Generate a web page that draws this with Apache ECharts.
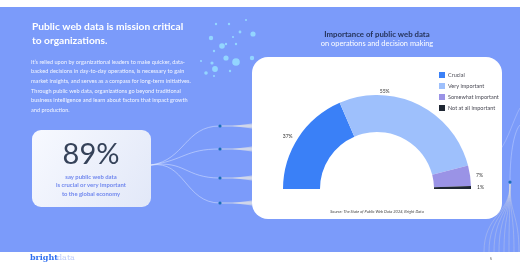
<!DOCTYPE html>
<html>
<head>
<meta charset="utf-8">
<script src="https://cdn.jsdelivr.net/npm/echarts@6/dist/echarts.min.js"></script>
<style>
  html, body { margin: 0; padding: 0; background: #fff; }
  #main { width: 520px; height: 272px; }
</style>
</head>
<body>
<div id="main"></div>
<script>
// data
const categories = ['Crucial', 'Very important', 'Somewhat important', 'Not at all important'];
const shares = [37, 55, 7, 1];
const sliceColors = ['#3a80f7', '#9ec0fc', '#9a93e6', '#1f2733'];

const bodyLines = [
  'It\u2019s relied upon by organizational leaders to make quicker, data-',
  'backed decisions in day-to-day operations, is necessary to gain',
  'market insights, and serves as a compass for long-term initiatives.',
  'Through public web data, organizations go beyond traditional',
  'business intelligence and learn about factors that impact growth',
  'and production.'
];
const statLines = ['say public web data', 'is crucial or very important', 'to the global economy'];

const chart = echarts.init(document.getElementById('main'));

const bg = '#7b9bfa';
const font = 'Lato';

// decoration
let deco = [];
deco.push({ type: 'rect', z: -10, shape: { x: 0, y: 7, width: 520, height: 245 }, style: { fill: bg } });

// bubbles
const bubbles = [[216,24,1.2],[229,24,1.2],[240,32,1.4],[253,34,2.6],[211,38,2.2],[222,46,2.8],[226,44,1.2],[236,44,1.2],
  [214,51,1.2],[226,58,2.6],[236,62,3.8],[252,58,2.2],[212,63,1.6],[215,69,2.9],[201,61,1.1],[230,71,1.2],[206,73,1.8],[214,76,1.1],[233,37,1.1],[246,20,1.1]];
bubbles.forEach(b => deco.push({ type: 'circle', z: -5, shape: { cx: b[0], cy: b[1], r: b[2] }, style: { fill: 'rgba(150,220,255,0.9)' } }));

// connector lines from stat box to card
const dotY = [126, 149, 178, 203];
dotY.forEach(y => {
  deco.push({ type: 'bezierCurve', z: -5, shape: { x1: 151, y1: 165, cpx1: 185, cpy1: 160, cpx2: 185, cpy2: y, x2: 220, y2: y },
    style: { stroke: 'rgba(225,232,255,0.7)', lineWidth: 0.7, fill: null } });
  deco.push({ type: 'line', z: -5, shape: { x1: 220, y1: y, x2: 252, y2: y }, style: { stroke: 'rgba(240,240,230,0.8)', lineWidth: 0.8 } });
  deco.push({ type: 'polygon', z: -5, shape: { points: [[232, y], [252, y - 2.5], [252, y + 2.5]] }, style: { fill: 'rgba(245,240,225,0.55)' } });
  deco.push({ type: 'circle', z: -4, shape: { cx: 220, cy: y, r: 1.6 }, style: { fill: '#1a6fb8' } });
});

// right side fan
[484, 489, 494, 499, 504, 509, 514, 519].forEach(x => {
  deco.push({ type: 'bezierCurve', z: -5, shape: { x1: 510, y1: 184, cpx1: 510, cpy1: 215, cpx2: x, cpy2: 215, x2: x, y2: 252 },
    style: { stroke: 'rgba(235,230,215,0.55)', lineWidth: 0.5, fill: null } });
});
deco.push({ type: 'bezierCurve', z: -5, shape: { x1: 510, y1: 182, cpx1: 510, cpy1: 150, cpx2: 515, cpy2: 130, x2: 520, y2: 125 },
  style: { stroke: 'rgba(225,232,255,0.6)', lineWidth: 0.6, fill: null } });
deco.push({ type: 'bezierCurve', z: -5, shape: { x1: 500, y1: 150, cpx1: 508, cpy1: 140, cpx2: 514, cpy2: 118, x2: 520, y2: 108 },
  style: { stroke: 'rgba(225,232,255,0.5)', lineWidth: 0.6, fill: null } });
deco.push({ type: 'circle', z: -4, shape: { cx: 510, cy: 182, r: 1.6 }, style: { fill: '#1a6fb8' } });

// card
deco.push({ type: 'rect', z: -3, shape: { x: 252, y: 57, width: 250, height: 162, r: 16 }, style: { fill: '#fff' } });

// stat box
deco.push({ type: 'rect', z: -3, shape: { x: 32, y: 130, width: 119, height: 77, r: 9 },
  style: { fill: new echarts.graphic.LinearGradient(0, 0, 1, 1, [{ offset: 0, color: '#f7f9ff' }, { offset: 1, color: '#e2e8f8' }]) } });
deco.push({ type: 'text', style: { text: '89%', x: 91, y: 155, font: '400 29px ' + font, fill: '#354259', textAlign: 'center', textVerticalAlign: 'middle' } });
statLines.forEach((t, i) => deco.push({ type: 'text',
  style: { text: t, x: 91, y: 177 + i * 8.5, font: 'bold 5.9px ' + font, fill: '#7188ee', textAlign: 'center', textVerticalAlign: 'middle' } }));

// left text
deco.push({ type: 'text', style: { text: 'Public web data is mission critical', x: 32, y: 27, font: 'bold 10.2px ' + font, fill: '#fff', textVerticalAlign: 'middle' } });
deco.push({ type: 'text', style: { text: 'to organizations.', x: 32, y: 40.5, font: 'bold 10.2px ' + font, fill: '#fff', textVerticalAlign: 'middle' } });
bodyLines.forEach((t, i) => deco.push({ type: 'text',
  style: { text: t, x: 31, y: 62 + i * 9.6, font: '5.6px ' + font, fill: '#f2f5ff', textVerticalAlign: 'middle' } }));

// chart title
deco.push({ type: 'text', style: { text: 'Importance of public web data', x: 377, y: 34, font: 'bold 7.8px ' + font, fill: '#25335a', textAlign: 'center', textVerticalAlign: 'middle' } });
deco.push({ type: 'text', style: { text: 'on operations and decision making', x: 377, y: 43.5, font: '7.4px ' + font, fill: '#fff', textAlign: 'center', textVerticalAlign: 'middle' } });
deco.push({ type: 'text', style: { text: 'Source: The State of Public Web Data 2024, Bright Data', x: 377, y: 212, font: 'italic 4px ' + font, fill: '#444', textAlign: 'center', textVerticalAlign: 'middle' } });

// footer
deco.push({ type: 'text', style: { text: 'bright', x: 30, y: 258, font: 'bold 8px "DejaVu Serif"', fill: '#2f6ff0', textVerticalAlign: 'middle' } });
deco.push({ type: 'text', style: { text: 'data', x: 57, y: 258, font: '8px "DejaVu Serif"', fill: '#bccbfa', textVerticalAlign: 'middle' } });
deco.push({ type: 'text', style: { text: '5', x: 491, y: 259, font: '4px ' + font, fill: '#555', textAlign: 'center', textVerticalAlign: 'middle' } });

const option = {
  animation: false,
  backgroundColor: '#fff',
  color: sliceColors,
  graphic: { elements: deco },
  legend: {
    orient: 'vertical',
    left: 434,
    top: 67,
    icon: 'rect',
    itemWidth: 6,
    itemHeight: 6,
    itemGap: 5,
    textStyle: { fontFamily: font, fontSize: 5.5, color: '#4a4a55', padding: [0, 0, 0, -2] },
    data: categories
  },
  series: [{
    type: 'pie',
    center: [377, 189],
    radius: [57, 94],
    startAngle: 180,
    endAngle: 0,
    clockwise: true,
    silent: true,
    label: {
      show: true,
      position: 'outside',
      formatter: '{c}%',
      fontFamily: font,
      fontSize: 5,
      color: '#333'
    },
    labelLine: { show: false, length: 1, length2: 0 },
    data: categories.map((c, i) => {
      const d = { name: c, value: shares[i] };
      if (i === 1) d.label = { offset: [-44, -12] };
      return d;
    })
  }]
};

chart.setOption(option);
</script>
</body>
</html>
